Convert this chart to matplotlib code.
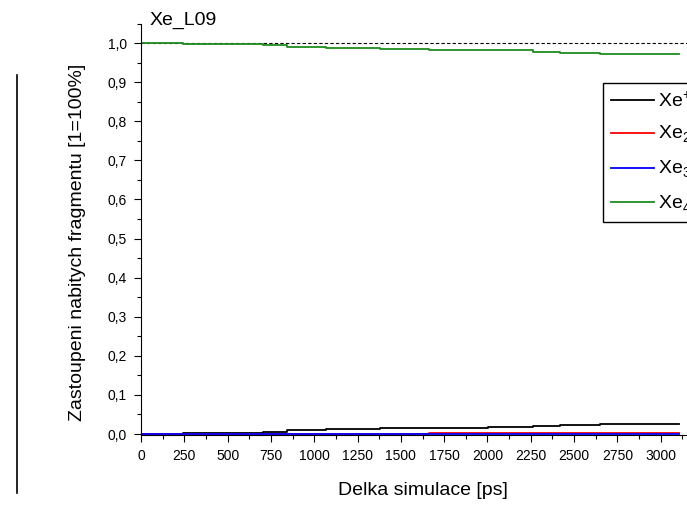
import numpy as np
import matplotlib.pyplot as plt
from matplotlib.ticker import MultipleLocator, FuncFormatter
from matplotlib.lines import Line2D

plt.rcParams['font.family'] = ['Liberation Sans', 'DejaVu Sans']
plt.rcParams['mathtext.fontset'] = 'custom'
plt.rcParams['mathtext.rm'] = 'Liberation Sans'

# Step times (ps) and fractions of charged fragments
t = [0, 242, 704, 842, 1067, 1379, 1660, 2002, 2262, 2417, 2648, 2971, 3104]
xe1 = [0.0, 0.003, 0.005, 0.010, 0.012, 0.015, 0.015, 0.017, 0.021, 0.023, 0.025, 0.026, 0.026]
xe2 = [0.0, 0.0, 0.0, 0.0, 0.0, 0.0, 0.002, 0.002, 0.002, 0.002, 0.002, 0.003, 0.003]
xe3 = [0.0, 0.0, 0.0, 0.0, 0.0, 0.0, 0.0, 0.0, 0.0, 0.0, 0.0, 0.0, 0.0]
xe4 = [1.0, 0.997, 0.995, 0.990, 0.988, 0.985, 0.983, 0.981, 0.977, 0.975, 0.973, 0.971, 0.971]

labels = [r'Xe$^{+}$', r'Xe$_{2}{}^{+}$', r'Xe$_{3}{}^{+}$', r'Xe$_{4}{}^{+}$']
colors = ['black', 'red', 'blue', '#1e8c1e']

fig = plt.figure(figsize=(6.87, 5.09), dpi=100)
ax = fig.add_axes([141 / 687, 1 - 434.8 / 509, 563 / 687, 411.3 / 509])

# reference line at 100 %
ax.axhline(1.0, color='black', lw=0.8, ls=(0, (3, 2)))

for y, c, lab in zip([xe1, xe2, xe3, xe4], colors, labels):
    ax.plot(t, y, drawstyle='steps-post', color=c, lw=1.3, label=lab)

ax.set_xlim(0, 3250)
ax.set_ylim(-0.002, 1.05)
ax.xaxis.set_major_locator(MultipleLocator(250))
ax.xaxis.set_minor_locator(MultipleLocator(125))
ax.yaxis.set_major_locator(MultipleLocator(0.1))
ax.yaxis.set_minor_locator(MultipleLocator(0.05))
ax.yaxis.set_major_formatter(FuncFormatter(lambda v, p: f'{v:.1f}'.replace('.', ',')))
ax.tick_params(which='major', direction='out', length=5, width=0.8, labelsize=10, pad=5)
ax.tick_params(which='minor', direction='out', length=3, width=0.8)
ax.spines['top'].set_visible(False)
ax.spines['right'].set_visible(False)

ax.set_xlabel('Delka simulace [ps]', fontsize=14, labelpad=14)
ax.set_ylabel('Zastoupeni nabitych fragmentu [1=100%]', fontsize=14)
ax.yaxis.set_label_coords(-55 / 563, 0.469)
fig.text(150 / 687, 1 - 20 / 509, 'Xe_L09', fontsize=14, va='center', ha='left')

ax.legend(loc='upper left', bbox_to_anchor=(603 / 687, 1 - 83 / 509),
          bbox_transform=fig.transFigure, frameon=True, fancybox=False,
          edgecolor='black', fontsize=14, handlelength=2.2, handletextpad=0.25,
          borderaxespad=0, labelspacing=0.58, framealpha=1)

# stray vertical line on the left
fig.add_artist(Line2D([17 / 687, 17 / 687], [1 - 75 / 509, 1 - 493 / 509],
                      color='black', lw=1.2, transform=fig.transFigure))

fig.savefig('out.png', dpi=100)
